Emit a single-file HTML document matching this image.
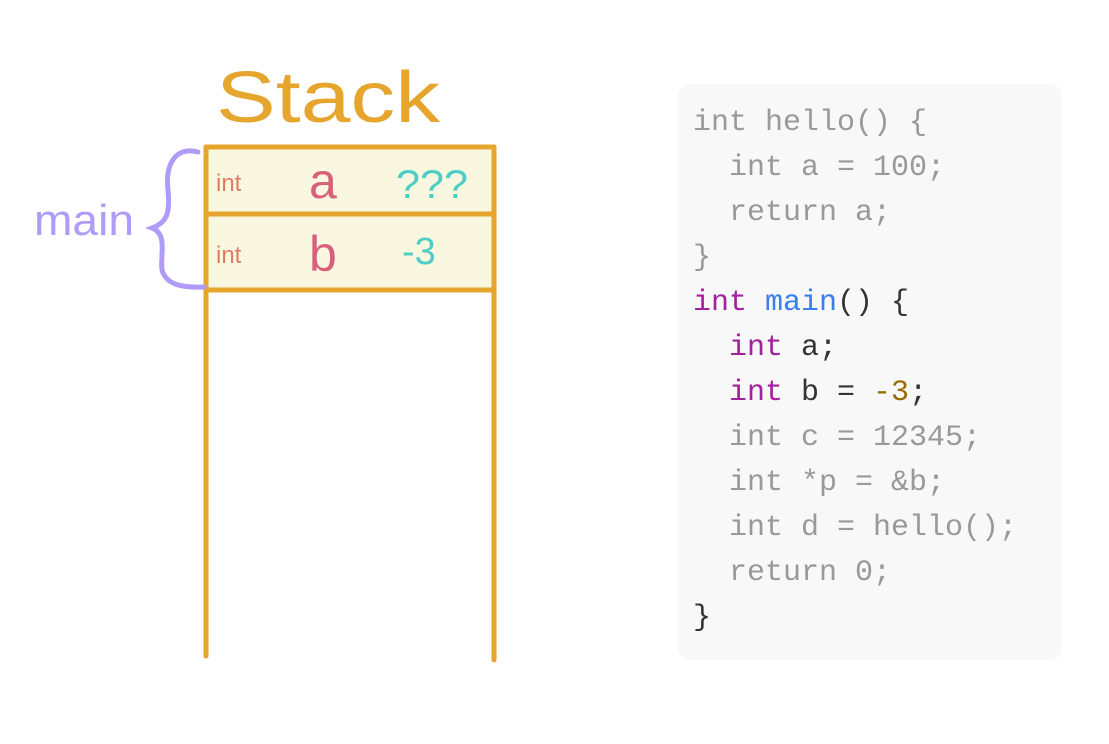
<!DOCTYPE html>
<html><head><style>
body{margin:0;background:#fff;width:1109px;height:744px;overflow:hidden}
text{white-space:pre}
</style></head><body>
<svg width="1109" height="744" xmlns="http://www.w3.org/2000/svg" xml:space="preserve" style="position:absolute;left:0;top:0">
<rect x="678" y="84" width="384" height="576" rx="12" fill="#f8f8f8"/>
<g font-family="Liberation Mono, monospace" font-size="30" fill="#999">
<text x="693" y="130">int hello() {</text>
<text x="693" y="175">  int a = 100;</text>
<text x="693" y="220">  return a;</text>
<text x="693" y="265">}</text>
<text x="693" y="310"><tspan fill="#a3219e">int</tspan> <tspan fill="#3b7cf0">main</tspan><tspan fill="#333">() {</tspan></text>
<text x="693" y="355" fill="#333">  <tspan fill="#a3219e">int</tspan> a;</text>
<text x="693" y="400" fill="#333">  <tspan fill="#a3219e">int</tspan> b = <tspan fill="#9a6a00">-3</tspan>;</text>
<text x="693" y="445">  int c = 12345;</text>
<text x="693" y="490">  int *p = &amp;b;</text>
<text x="693" y="535">  int d = hello();</text>
<text x="693" y="580">  return 0;</text>
<text x="693" y="625" fill="#333">}</text>
</g>
<rect x="208" y="148" width="284" height="140" fill="#faf7e1"/>
<g stroke="#e6a52d" stroke-width="5" fill="none" stroke-linecap="round">
<line x1="206" y1="147" x2="494" y2="147"/>
<line x1="206" y1="214" x2="494" y2="214"/>
<line x1="206" y1="290" x2="494" y2="290"/>
<line x1="206" y1="147" x2="206" y2="656"/>
<line x1="494" y1="147" x2="494" y2="660"/>
</g>
<text x="216" y="122" font-family="Liberation Sans, sans-serif" font-size="72" fill="#e6a52d" textLength="224" lengthAdjust="spacingAndGlyphs">Stack</text>
<g font-family="Liberation Sans, sans-serif">
<text x="216" y="191" font-size="24" fill="#e07a63">int</text>
<text x="216" y="263" font-size="24" fill="#e07a63">int</text>
<text x="309" y="198" font-size="50" fill="#d9607a">a</text>
<text x="309" y="271" font-size="50" fill="#d9607a">b</text>
<text x="396" y="198" font-size="40" fill="#4ecdc4" textLength="72" lengthAdjust="spacingAndGlyphs">???</text>
<text x="402" y="264" font-size="38" fill="#4ecdc4">-3</text>
<text x="34" y="235" font-size="44" fill="#b09cf8" textLength="100" lengthAdjust="spacingAndGlyphs">main</text>
</g>
<path d="M198 152 C175 146 165 165 168 190 C170 212 168 222 152 228 C168 234 160 255 162 270 C166 284 180 288 204 287" stroke="#b09cf8" stroke-width="5" fill="none" stroke-linecap="round"/>
</svg>
</body></html>
